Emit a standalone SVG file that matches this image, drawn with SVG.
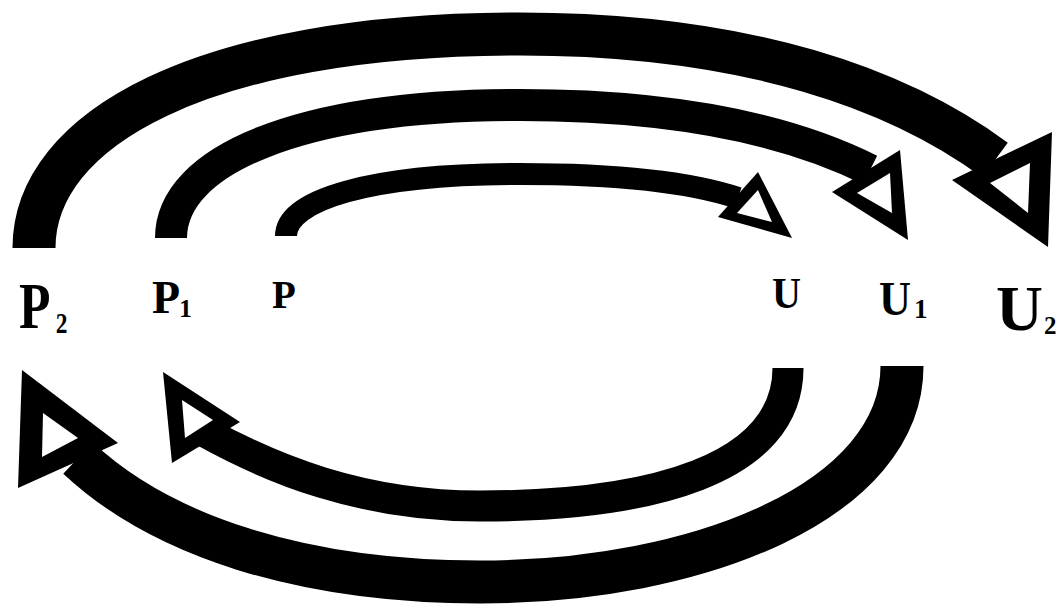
<svg xmlns="http://www.w3.org/2000/svg" width="1058" height="611" viewBox="0 0 1058 611">
<style>
.lbl{font-family:"Liberation Serif","Times New Roman",serif;font-weight:bold;fill:#000}
.arc{fill:none;stroke:#000;stroke-linecap:butt}
.head{fill:#000}
.hole{fill:#fff}
</style>
<rect width="1058" height="611" fill="#fff"/>
<g id="connectors">
  <!-- P2 -> U2 -->
  <g id="c-P2-U2">
    <path class="arc" stroke-width="43" d="M34,248 C34,130 200,34 520,34 C750,34 900,90 995,160"/>
    <polygon class="head" points="952,180 1052,132 1048,247"/>
    <polygon class="hole" points="990,183 1030,163 1028,213"/>
  </g>
  <!-- P1 -> U1 -->
  <g id="c-P1-U1">
    <path class="arc" stroke-width="32" d="M171,238 C171,160 300,105 520,105 C680,105 790,130 870,170"/>
    <polygon class="head" points="832,192 900,150 908,240"/>
    <polygon class="hole" points="857,193 890,173 892,213"/>
  </g>
  <!-- P -> U -->
  <g id="c-P-U">
    <path class="arc" stroke-width="22" d="M286,236 C286,200 370,174 520,174 C620,174 690,182 738,198"/>
    <polygon class="head" points="718,217 758,172 792,238"/>
    <polygon class="hole" points="737,213 758,190 772,222"/>
  </g>
  <!-- U1 -> P2 -->
  <g id="c-U1-P2">
    <path class="arc" stroke-width="43" d="M902,366 C902,500 700,582 480,582 C300,582 160,535 78,458"/>
    <polygon class="head" points="22,370 118,443 18,488"/>
    <polygon class="hole" points="43,413 78,438 42,457"/>
  </g>
  <!-- U -> P1 -->
  <g id="c-U-P1">
    <path class="arc" stroke-width="31" d="M788,368 C788,470 650,506 480,506 C360,506 270,468 205,432"/>
    <polygon class="head" points="163,372 240,422 172,463"/>
    <polygon class="hole" points="182,400 213,420 185,438"/>
  </g>
</g>
<g id="node-P2">
  <text class="lbl" font-size="66" transform="translate(19,328) scale(0.78,1)">P<tspan x="47" y="5" font-size="30">2</tspan></text>
</g>
<g id="node-P1">
  <text class="lbl" font-size="46"><tspan x="152" y="313">P</tspan><tspan x="179" y="317" font-size="26">1</tspan></text>
</g>
<g id="node-P">
  <text class="lbl" x="272" y="308" font-size="39">P</text>
</g>
<g id="node-U">
  <text class="lbl" x="772" y="308" font-size="44" textLength="29" lengthAdjust="spacingAndGlyphs">U</text>
</g>
<g id="node-U1">
  <text class="lbl" font-size="49"><tspan x="879" y="315" textLength="32" lengthAdjust="spacingAndGlyphs">U</tspan><tspan x="914" y="318" font-size="27">1</tspan></text>
</g>
<g id="node-U2">
  <text class="lbl" font-size="64"><tspan x="996" y="330" textLength="47" lengthAdjust="spacingAndGlyphs">U</tspan><tspan x="1044" y="334" font-size="25">2</tspan></text>
</g>
</svg>
